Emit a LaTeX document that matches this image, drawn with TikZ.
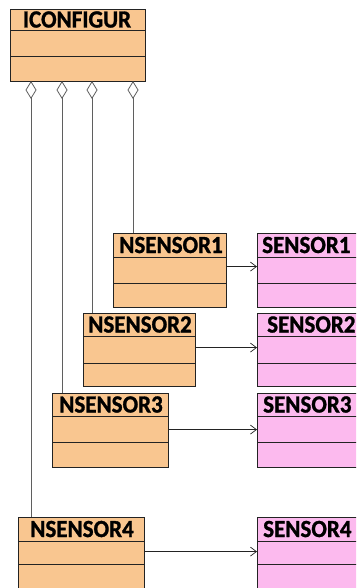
\documentclass[tikz,border=0pt]{standalone}
\usepackage{fontspec}
\usepackage{graphicx}
\setmainfont{Carlito}[BoldFeatures={FakeBold=1.2}]
\usetikzlibrary{arrows.meta}
\definecolor{peach}{RGB}{249,198,144}
\definecolor{pinkc}{RGB}{252,186,238}
\definecolor{edgec}{RGB}{35,35,35}
\definecolor{connc}{RGB}{95,95,95}
\newcommand\tallt[1]{\scalebox{1}[1.07]{#1}}
\tikzset{
  cls/.style={draw=edgec, line width=1.2pt, rectangle, inner sep=0pt, anchor=north west},
  ttl/.style={font=\fontsize{23}{25}\selectfont\bfseries, inner sep=0pt},
  divider/.style={draw=edgec, line width=1pt},
  agg/.style={draw=connc, line width=0.8pt, {Diamond[open,length=18pt,width=11pt]}-},
  assoc/.style={draw=edgec, line width=0.7pt, -{Straight Barb[length=6pt,width=9pt]}},
}
% name, x1, y1, x2, y2, divider1, divider2, fill
\newcommand\clsbox[8]{%
  \node[cls, fill=#8, minimum width={(#4-#2)*1pt}, minimum height={(#5-#3)*1pt}] (#1) at (#2,#3) {};
  \draw[divider] (#2,#6) -- (#4,#6);
  \draw[divider] (#2,#7) -- (#4,#7);
}
\begin{document}
\begin{tikzpicture}[x=1pt,y=-1pt]
\clip (0,0) rectangle (356,588);
\fill[white] (0,0) rectangle (356,588);

% classes
\clsbox{cfg}{10}{9}{145}{81}{31}{57}{peach}
\node[ttl, anchor=base] (cfgt) at (77,27.5) {\tallt{ICONFIGUR}};

\clsbox{ns1}{113}{233}{226}{307}{257}{283}{peach}
\node[ttl, anchor=base] (ns1t) at (171,253) {\tallt{NSENSOR1}};
\clsbox{ns2}{83}{313}{195}{386}{336}{363}{peach}
\node[ttl, anchor=base] (ns2t) at (140,332.5) {\tallt{NSENSOR2}};
\clsbox{ns3}{52}{393}{168}{467}{416}{442}{peach}
\node[ttl, anchor=base] (ns3t) at (111,412.5) {\tallt{NSENSOR3}};
\clsbox{ns4}{18}{517}{144}{592}{541}{564}{peach}
\node[ttl, anchor=base] (ns4t) at (82,537) {\tallt{NSENSOR4}};

\clsbox{s1}{257}{233}{370}{307}{257}{283}{pinkc}
\node[ttl, anchor=base west] (s1t) at (262,253) {\tallt{SENSOR1}};
\clsbox{s2}{257}{313}{370}{386}{336}{363}{pinkc}
\node[ttl, anchor=base west] (s2t) at (267,332.5) {\tallt{SENSOR2}};
\clsbox{s3}{257}{393}{370}{467}{416}{442}{pinkc}
\node[ttl, anchor=base west] (s3t) at (263,412.5) {\tallt{SENSOR3}};
\clsbox{s4}{257}{517}{370}{592}{541}{564}{pinkc}
\node[ttl, anchor=base west] (s4t) at (263,537) {\tallt{SENSOR4}};

% aggregation anchors on ICONFIGUR bottom
\coordinate (a4) at (31,81);
\coordinate (a3) at (62,81);
\coordinate (a2) at (92,81);
\coordinate (a1) at (133,81);

\draw[agg] (a4) -- (a4 |- ns4.north);
\draw[agg] (a3) -- (a3 |- ns3.north);
\draw[agg] (a2) -- (a2 |- ns2.north);
\draw[agg] (a1) -- (a1 |- ns1.north);

% associations
\draw[assoc] ([yshift=4pt]ns1.east) -- ([yshift=4pt]ns1.east -| s1.west);
\draw[assoc] ([yshift=2.5pt]ns2.east) -- ([yshift=2.5pt]ns2.east -| s2.west);
\draw[assoc] ([yshift=1pt]ns3.east) -- ([yshift=1pt]ns3.east -| s3.west);
\draw[assoc] ([yshift=3.5pt]ns4.east) -- ([yshift=3.5pt]ns4.east -| s4.west);
\end{tikzpicture}
\end{document}
